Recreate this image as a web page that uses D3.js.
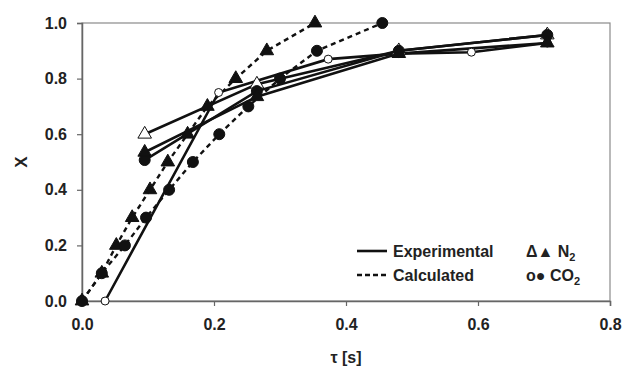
<!DOCTYPE html>
<html>
<head>
<meta charset="utf-8">
<script src="https://cdn.jsdelivr.net/npm/d3@7"></script>
<style>
  body { margin: 0; background: #fff; }
  svg { display: block; font-family: "Liberation Sans", Arial, sans-serif; }
</style>
</head>
<body>
<svg id="chart" width="624" height="372"></svg>
<script>
// calculated curves (dashed, filled markers)
const n2CalcTau = [0, 0.03, 0.052, 0.076, 0.103, 0.13, 0.16, 0.19, 0.233, 0.28, 0.353];
const n2CalcX = [0, 0.1, 0.2, 0.3, 0.4, 0.5, 0.6, 0.7, 0.8, 0.9, 1.0];
const co2CalcTau = [0, 0.03, 0.065, 0.097, 0.132, 0.168, 0.208, 0.252, 0.30, 0.356, 0.455];
const co2CalcX = [0, 0.1, 0.2, 0.3, 0.4, 0.5, 0.6, 0.7, 0.8, 0.9, 1.0];

// experimental curves (solid)
const co2ExpTau = [0.035, 0.207, 0.373, 0.48, 0.59, 0.705];
const co2ExpX = [0, 0.75, 0.87, 0.89, 0.895, 0.928];
const n2ExpTau = [0.095, 0.265, 0.48, 0.705];
const n2ExpX = [0.6, 0.78, 0.9, 0.957];
const co2FillTau = [0.095, 0.265, 0.48, 0.705];
const co2FillX = [0.507, 0.755, 0.9, 0.957];
const n2FillTau = [0.095, 0.265, 0.48, 0.705];
const n2FillX = [0.535, 0.735, 0.89, 0.928];

const xTicks = [0, 0.2, 0.4, 0.6, 0.8];
const yTicks = [0, 0.2, 0.4, 0.6, 0.8, 1.0];

const svg = d3.select("#chart");
const margin = { top: 23, right: 14, bottom: 71, left: 82 },
  width = 624 - margin.left - margin.right,
  height = 372 - margin.top - margin.bottom;

const xScale = d3.scaleLinear().domain([0, 0.8]).range([0, width]);
const yScale = d3.scaleLinear().domain([0, 1]).range([height, 0]);

const g = svg.append("g").attr("transform", "translate(" + margin.left + "," + margin.top + ")");

// plot frame
g.append("rect")
  .attr("width", width).attr("height", height)
  .attr("fill", "none").attr("stroke", "#8a8a8a").attr("stroke-width", 1.2);

// axes
const xAxis = d3.axisBottom(xScale).tickValues(xTicks).tickFormat(d3.format(".1f")).tickSize(5).tickPadding(13);
const yAxis = d3.axisLeft(yScale).tickValues(yTicks).tickFormat(d3.format(".1f")).tickSize(5).tickPadding(10);

const gx = g.append("g").attr("transform", "translate(0," + height + ")").call(xAxis);
const gy = g.append("g").call(yAxis);
[gx, gy].forEach(a => {
  a.select(".domain").attr("stroke", "#666").attr("stroke-width", 1.5);
  a.selectAll(".tick line").attr("stroke", "#666").attr("stroke-width", 1.2);
  a.selectAll(".tick text")
    .attr("font-size", 16).attr("font-weight", "bold").attr("fill", "#222")
    .attr("font-family", "Liberation Sans, Arial, sans-serif");
});

// axis titles
svg.append("text")
  .attr("x", margin.left + xScale(0.4)).attr("y", 363)
  .attr("text-anchor", "middle").attr("font-size", 16).attr("font-weight", "bold").attr("fill", "#222")
  .text("τ [s]");
svg.append("text")
  .attr("transform", "translate(27," + (margin.top + yScale(0.5)) + ") rotate(-90)")
  .attr("text-anchor", "middle").attr("font-size", 17).attr("font-weight", "bold").attr("fill", "#222")
  .text("X");

const line = (taus) => d3.line().x((d, i) => xScale(taus[i])).y(d => yScale(d));

const series = [
  { tau: co2ExpTau, x: co2ExpX, dash: null, marker: "circleOpen" },
  { tau: n2ExpTau, x: n2ExpX, dash: null, marker: "triOpen" },
  { tau: co2FillTau, x: co2FillX, dash: null, marker: "circle" },
  { tau: n2FillTau, x: n2FillX, dash: null, marker: "tri" },
  { tau: n2CalcTau, x: n2CalcX, dash: "5,4", marker: "tri" },
  { tau: co2CalcTau, x: co2CalcX, dash: "5,4", marker: "circle" },
];

series.forEach(s => {
  g.append("path")
    .datum(s.x)
    .attr("fill", "none")
    .attr("stroke", "#111")
    .attr("stroke-width", s.dash ? 2.4 : 2.6)
    .attr("stroke-dasharray", s.dash)
    .attr("d", line(s.tau));
});

const triPath = d3.symbol().type(d3.symbolTriangle).size(80);
series.forEach(s => {
  const pts = s.x.map((v, i) => [xScale(s.tau[i]), yScale(v)]);
  if (s.marker === "circle" || s.marker === "circleOpen") {
    g.selectAll(null).data(pts).join("circle")
      .attr("cx", d => d[0]).attr("cy", d => d[1])
      .attr("r", s.marker === "circle" ? 5.5 : 4)
      .attr("fill", s.marker === "circle" ? "#111" : "#fff")
      .attr("stroke", "#111").attr("stroke-width", 1);
  } else {
    g.selectAll(null).data(pts).join("path")
      .attr("transform", d => "translate(" + d[0] + "," + d[1] + ")")
      .attr("d", triPath)
      .attr("fill", s.marker === "tri" ? "#111" : "#fff")
      .attr("stroke", "#111").attr("stroke-width", 1);
  }
});

// legend
const lg = svg.append("g").attr("font-size", 16).attr("font-weight", "bold").attr("fill", "#222");
const legendRows = [
  { label: "Experimental", dash: null, y: 251 },
  { label: "Calculated", dash: "5,3", y: 275 },
];
legendRows.forEach(r => {
  lg.append("line")
    .attr("x1", 357).attr("x2", 387).attr("y1", r.y).attr("y2", r.y)
    .attr("stroke", "#111").attr("stroke-width", 2.6).attr("stroke-dasharray", r.dash);
  lg.append("text").attr("x", 393).attr("y", r.y + 6).text(r.label);
});
const t1 = lg.append("text").attr("x", 526).attr("y", 257);
t1.append("tspan").text("Δ▲ N");
t1.append("tspan").attr("font-size", 11).attr("dy", 4).text("2");
const t2 = lg.append("text").attr("x", 526).attr("y", 281);
t2.append("tspan").text("o● CO");
t2.append("tspan").attr("font-size", 11).attr("dy", 4).text("2");
</script>
</body>
</html>
